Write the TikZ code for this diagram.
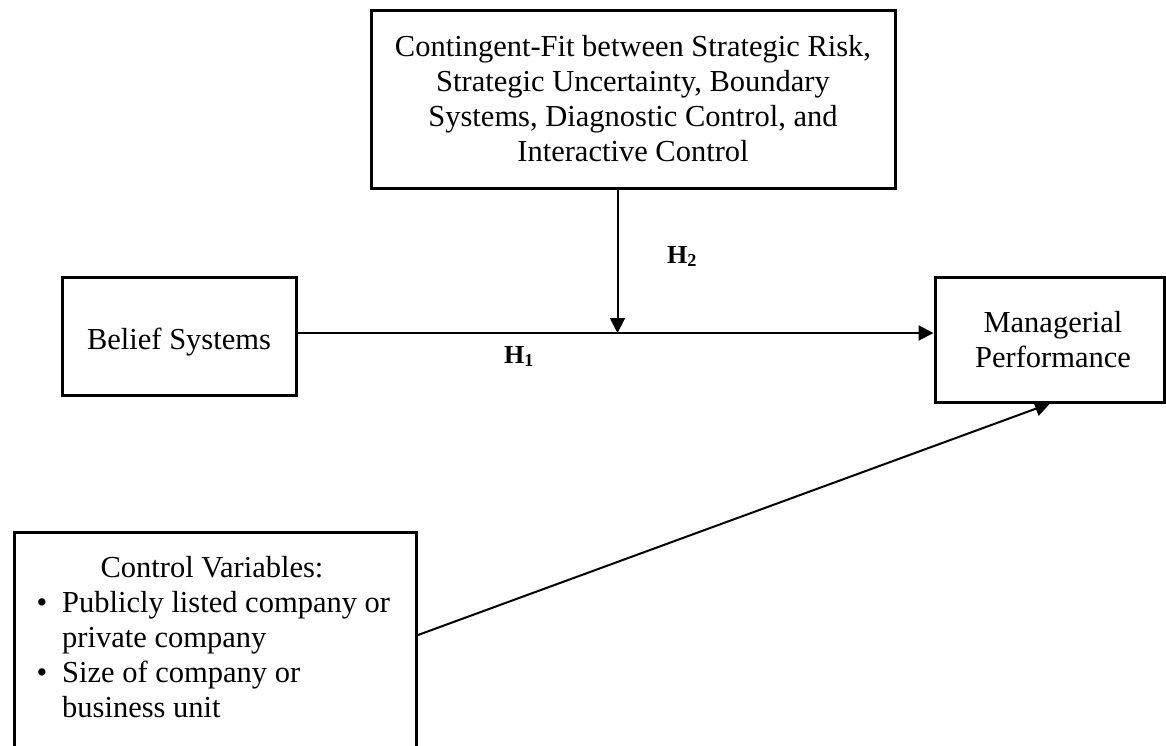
\documentclass[tikz,border=0pt]{standalone}
\usepackage{fontspec}
\setmainfont{Liberation Serif}
\usetikzlibrary{arrows.meta}
\tikzset{
  box/.style={draw=black, line width=3pt, rectangle, inner sep=0pt, align=center,
    font=\fontsize{30.5}{35}\selectfont},
  txt/.style={inner sep=0pt, font=\fontsize{30.5}{35}\selectfont},
  hlab/.style={inner sep=0pt, font=\fontsize{26}{30}\selectfont\bfseries},
  arr/.style={line width=2pt, -{Triangle[length=15pt,width=15pt]}},
  plain/.style={line width=2pt}
}
\begin{document}
\begin{tikzpicture}[x=1pt,y=-1pt]
\clip (0,0) rectangle (1166,745);
\fill[white] (0,0) rectangle (1166,745);
% boxes
\node[box, minimum width=524pt, minimum height=178pt] (fit) at (633,99)
  {Contingent-Fit between Strategic Risk,\\ Strategic Uncertainty, Boundary\\ Systems, Diagnostic Control, and\\ Interactive Control};
\node[box, minimum width=234pt, minimum height=118pt] (belief) at (179,336) {};
\node[txt, anchor=base] (bs) at (179,349) {Belief Systems};
\node[box, minimum width=229pt, minimum height=125pt] (mp) at (1049.5,339.5) {};
\node[txt, anchor=base] (mp1) at (1053,332) {Managerial};
\node[txt, anchor=base] (mp2) at (1053,367) {Performance};
\node[box, minimum width=402pt, minimum height=260pt, anchor=north west] (ctrl) at (13,531) {};
% control box text
\node[txt, anchor=base] (cv) at (212,577) {Control Variables:};
\node[txt, anchor=base] (b1) at (42,612) {\textbullet};
\node[txt, anchor=base west] (t1) at (62,612) {Publicly listed company or};
\node[txt, anchor=base west] (t2) at (62,647) {private company};
\node[txt, anchor=base] (b2) at (42,682) {\textbullet};
\node[txt, anchor=base west] (t3) at (62,682) {Size of company or};
\node[txt, anchor=base west] (t4) at (62,717) {business unit};
% labels
\node[hlab, anchor=base west] (h2) at (667,263) {H\textsubscript{2}};
\node[hlab, anchor=base west] (h1) at (504,363) {H\textsubscript{1}};
% connectors
\coordinate (hy) at (0,333);
\coordinate (vx) at (617.5,0);
\coordinate (ds) at (0,635);
\coordinate (de) at (1050,0);
\coordinate (hs) at (belief.east |- hy);
\coordinate (he) at (mp.west |- hy);
\coordinate (vs) at (fit.south -| vx);
\coordinate (ve) at (vx |- hy);
\coordinate (dstart) at (ctrl.north east |- ds);
\coordinate (dend) at (mp.south -| de);
\draw[arr] (hs) -- (he);
\draw[arr] (vs) -- (ve);
\draw[arr] (dstart) -- (dend);
\end{tikzpicture}
\end{document}
